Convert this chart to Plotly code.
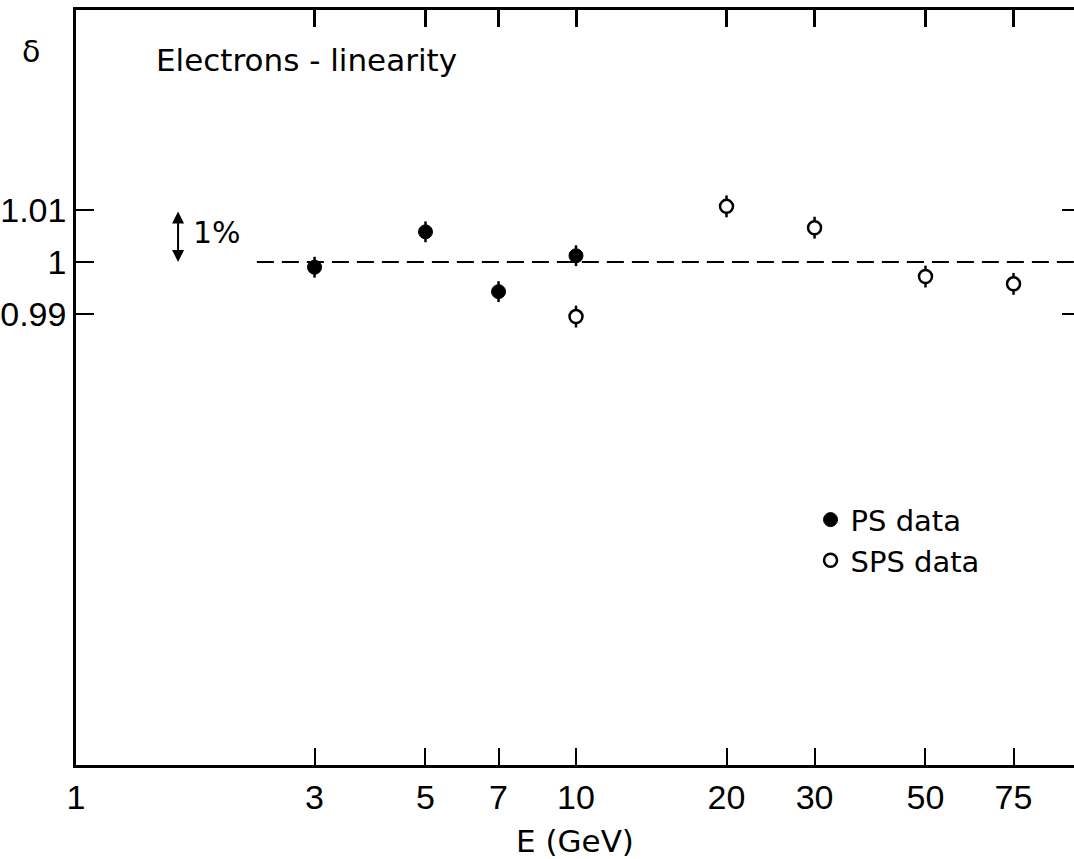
import numpy as np
import plotly.graph_objects as go

# ---- data ----
ps_energy = [3, 5, 7, 10]
ps_delta = [0.9990, 1.0058, 0.9943, 1.0012]
ps_err = [0.0020, 0.0020, 0.0020, 0.0020]

sps_energy = [10, 20, 30, 50, 75]
sps_delta = [0.9895, 1.0107, 1.0066, 0.9972, 0.9958]
sps_err = [0.0021, 0.0021, 0.0021, 0.0021, 0.0021]

x_tick_vals = [1, 3, 5, 7, 10, 20, 30, 50, 75]
x_tick_text = ["1", "3", "5", "7", "10", "20", "30", "50", "75"]
y_tick_vals = [0.99, 1.0, 1.01]
y_tick_text = ["0.99", "1", "1.01"]
right_tick_vals = [0.99, 1.01]

ref_line_E = [2.3, 99]
ref_line_delta = [1.0, 1.0]
arrow_E = 1.6

x_range = [0.0, 1.996]           # log10 units
y_range = [0.90327, 1.04846]

TEXT_FONT = "DejaVu Sans"
NUM_FONT = "Liberation Sans, Arial, sans-serif"

fig = go.Figure()

# reference dashed line at delta = 1
fig.add_trace(go.Scatter(
    x=ref_line_E, y=ref_line_delta, mode="lines",
    line=dict(color="black", width=2, dash="17px,8px"),
    showlegend=False, hoverinfo="skip"))

fig.add_trace(go.Scatter(
    x=ps_energy, y=ps_delta, mode="markers", name="PS data",
    marker=dict(symbol="circle", size=14, color="black",
                line=dict(color="black", width=1)),
    error_y=dict(type="data", array=ps_err, color="black",
                 thickness=2.5, width=0)))

fig.add_trace(go.Scatter(
    x=sps_energy, y=sps_delta, mode="markers", name="SPS data",
    marker=dict(symbol="circle", size=13, color="white",
                line=dict(color="black", width=2.5)),
    error_y=dict(type="data", array=sps_err, color="black",
                 thickness=2.5, width=0)))

# invisible trace to anchor top/right axes
fig.add_trace(go.Scatter(x=[None], y=[None], xaxis="x2", yaxis="y2",
                         showlegend=False, hoverinfo="skip"))

fig.update_layout(
    width=1074, height=859,
    margin=dict(l=76, r=0, t=10, b=94),
    paper_bgcolor="white", plot_bgcolor="white",
    font=dict(family=TEXT_FONT, color="black", size=31),
    xaxis=dict(type="log", range=x_range, showline=True, linecolor="black",
               linewidth=2.5, ticks="inside", ticklen=17, tickwidth=2,
               tickcolor="black", tickvals=x_tick_vals, ticktext=x_tick_text,
               tickfont=dict(family=NUM_FONT, size=34), showgrid=False,
               zeroline=False, ticklabelstandoff=0,
               title=dict(text="E (GeV)", font=dict(family=TEXT_FONT, size=31),
                          standoff=18)),
    xaxis2=dict(type="log", range=x_range, overlaying="x", side="top",
                anchor="y", showline=True, linecolor="black", linewidth=2.5,
                ticks="inside", ticklen=17, tickwidth=2.5, tickcolor="black",
                tickvals=ps_energy[:-1] + sps_energy, showticklabels=False,
                showgrid=False, zeroline=False),
    yaxis=dict(range=y_range, showline=True, linecolor="black",
               linewidth=2.5, ticks="inside", ticklen=18, tickwidth=2,
               tickcolor="black", tickvals=y_tick_vals, ticktext=y_tick_text,
               tickfont=dict(family=NUM_FONT, size=34), showgrid=False,
               zeroline=False, ticklabelstandoff=0),
    yaxis2=dict(range=y_range, overlaying="y", side="right", anchor="x",
                showline=False, ticks="inside", ticklen=12, tickwidth=2,
                tickcolor="black", tickvals=right_tick_vals,
                showticklabels=False, showgrid=False, zeroline=False),
    legend=dict(x=0.736, y=0.3586, xanchor="left", yanchor="top",
                bgcolor="rgba(0,0,0,0)", font=dict(family=TEXT_FONT, size=29),
                itemwidth=30, tracegroupgap=0),
)

# y axis symbol
fig.add_annotation(text="δ", xref="paper", yref="paper", x=-0.045, y=0.945,
                   xanchor="center", yanchor="middle", showarrow=False,
                   font=dict(family=TEXT_FONT, size=30))
# panel title
fig.add_annotation(text="Electrons - linearity", xref="paper", yref="paper",
                   x=0.078, y=0.934, xanchor="left", yanchor="middle",
                   showarrow=False, font=dict(family=TEXT_FONT, size=31))
# 1% scale arrow
fig.add_annotation(text="", xref="x", yref="y", axref="x", ayref="y",
                   x=np.log10(arrow_E), y=1.0, ax=np.log10(arrow_E), ay=1.01,
                   showarrow=True, arrowside="end+start", arrowhead=2,
                   arrowsize=1.2, arrowwidth=2, arrowcolor="black",
                   standoff=0, startstandoff=0)
fig.add_annotation(text="1%", xref="x", yref="y", x=np.log10(1.7), y=1.0057,
                   xanchor="left", yanchor="middle", showarrow=False,
                   font=dict(family=TEXT_FONT, size=30))

fig.write_html("out.html")
